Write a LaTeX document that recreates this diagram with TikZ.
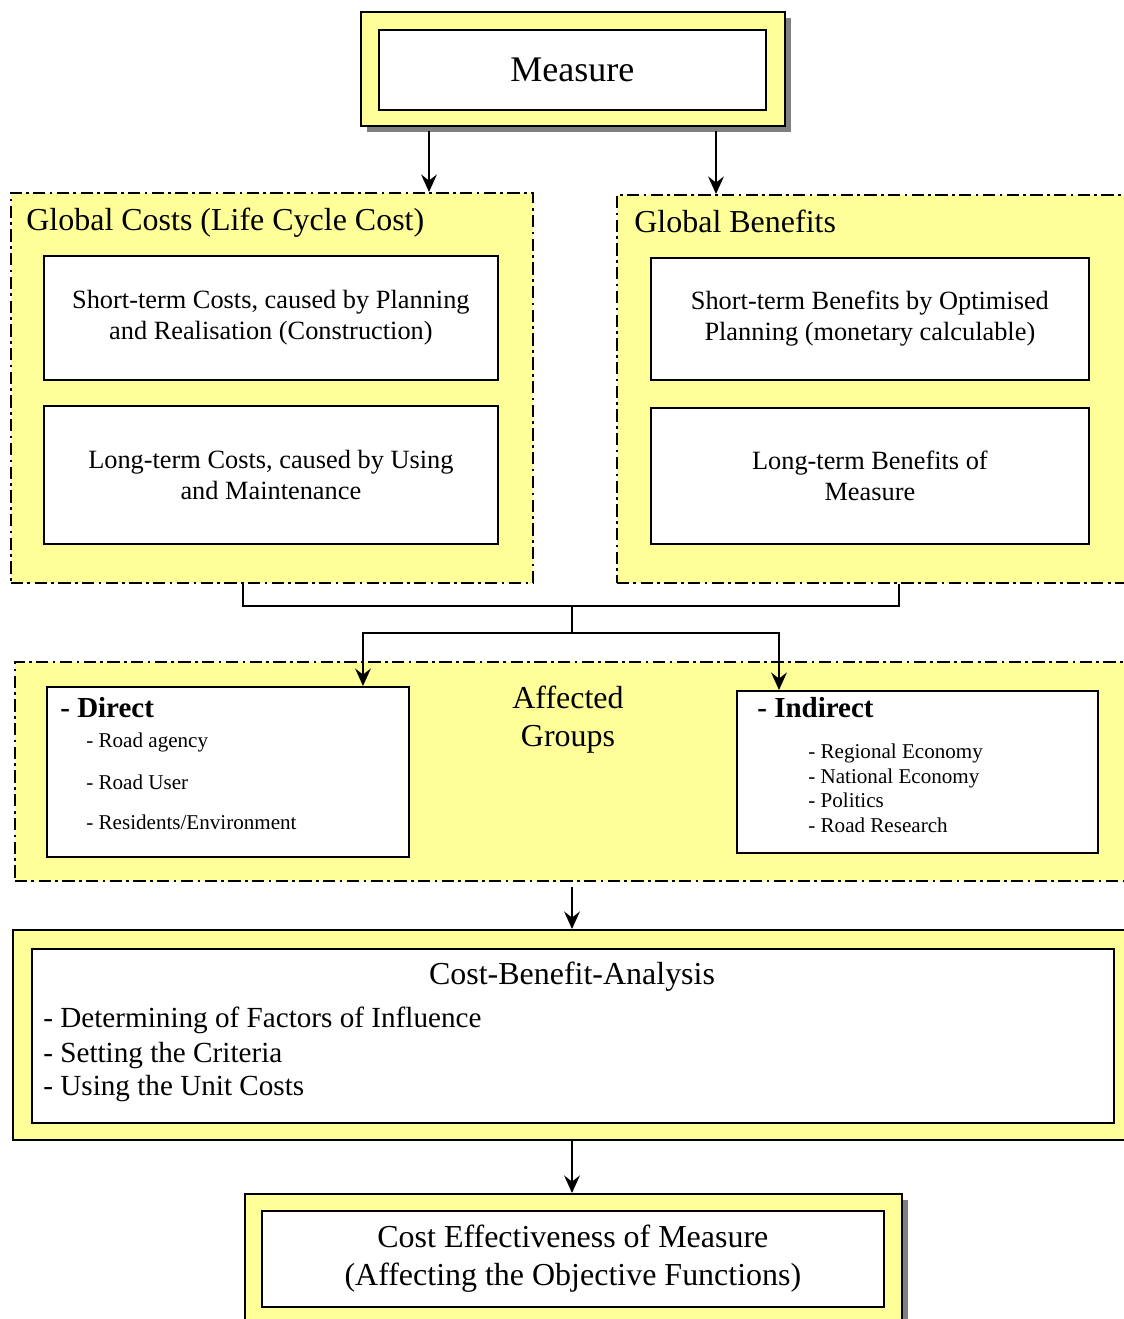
\documentclass[tikz,border=0pt]{standalone}
\usepackage{fontspec}
\setmainfont{Liberation Serif}
\usetikzlibrary{arrows.meta,shadows}

\definecolor{paleyellow}{HTML}{FFFF99}
\definecolor{shadowgray}{HTML}{808080}

\tikzset{
  boxsize/.style 2 args={minimum width=#1*0.02cm,minimum height=#2*0.02cm},
  outerbox/.style={draw,line width=1pt,fill=paleyellow,inner sep=0pt,anchor=north west},
  innerbox/.style={draw,line width=1pt,fill=white,inner sep=0pt,anchor=north west,align=center},
  groupbox/.style={draw,line width=0.9pt,fill=paleyellow,inner sep=0pt,anchor=north west,
    dash pattern=on 7pt off 2.5pt on 1.5pt off 2.5pt},
  shadowed/.style={drop shadow={shadow xshift=0.12cm,shadow yshift=-0.12cm,fill=shadowgray,opacity=1}},
  link/.style={line width=0.8pt},
  arrowlink/.style={line width=0.8pt,-{Stealth[length=10pt,width=9pt,inset=3.5pt]}},
  measurefont/.style={font=\fontsize{20.5}{24}\selectfont},
  titlefont/.style={font=\fontsize{18.2}{21.5}\selectfont},
  boxfont/.style={font=\fontsize{15}{17.6}\selectfont},
  cbatitlefont/.style={font=\fontsize{18.2}{21}\selectfont},
  cbafont/.style={font=\fontsize{16.6}{20}\selectfont},
  groupfont/.style={font=\bfseries\fontsize{16.5}{19}\selectfont},
  itemfont/.style={font=\fontsize{12}{14.2}\selectfont}
}

\begin{document}
\begin{tikzpicture}[x=0.02cm,y=-0.02cm]
  \clip (0,0) rectangle (1124,1319);

  % measure
  \node[outerbox,shadowed,boxsize={424}{114}] (measurebox) at (360,11) {};
  \node[innerbox,boxsize={387}{80},measurefont] (measure) at (378,29) {Measure};

  % global costs
  \node[groupbox,boxsize={522}{390}] (costs) at (10,192) {};
  \node[anchor=base west,inner sep=0pt,titlefont] (coststitle) at (26,230) {Global Costs (Life Cycle Cost)};
  \node[innerbox,boxsize={454}{124},boxfont] (costshort) at (43,255)
    {Short-term Costs, caused by Planning\\and Realisation (Construction)};
  \node[innerbox,boxsize={454}{138},boxfont] (costlong) at (43,405)
    {Long-term Costs, caused by Using\\and Maintenance};

  % global benefits
  \node[groupbox,boxsize={600}{388}] (benefits) at (616,194) {};
  \node[anchor=base west,inner sep=0pt,titlefont] (benefitstitle) at (634,232) {Global Benefits};
  \node[innerbox,boxsize={438}{122},boxfont] (benshort) at (650,257)
    {Short-term Benefits by Optimised\\Planning (monetary calculable)};
  \node[innerbox,boxsize={438}{136},boxfont] (benlong) at (650,407)
    {Long-term Benefits of\\Measure};

  % affected groups
  \node[groupbox,boxsize={1200}{219}] (affected) at (14,661) {};
  \node[align=center,inner sep=0pt,titlefont] (affectedtitle) at (568,720) {Affected\\Groups};
  \node[innerbox,boxsize={362}{170}] (direct) at (46,686) {};
  \node[anchor=base west,inner sep=0pt,groupfont] (directtitle) at (60,717) {- Direct};
  \node[anchor=base west,inner sep=0pt,itemfont] (agency) at (86,747) {- Road agency};
  \node[anchor=base west,inner sep=0pt,itemfont] (user) at (86,789) {- Road User};
  \node[anchor=base west,inner sep=0pt,itemfont] (residents) at (86,829) {- Residents/Environment};
  \node[innerbox,boxsize={361}{162}] (indirect) at (736,690) {};
  \node[anchor=base west,inner sep=0pt,groupfont] (indirecttitle) at (757,717) {- Indirect};
  \node[anchor=base west,inner sep=0pt,itemfont] (regional) at (808,758) {- Regional Economy};
  \node[anchor=base west,inner sep=0pt,itemfont] (national) at (808,783) {- National Economy};
  \node[anchor=base west,inner sep=0pt,itemfont] (politics) at (808,807) {- Politics};
  \node[anchor=base west,inner sep=0pt,itemfont] (research) at (808,832) {- Road Research};

  % cost-benefit-analysis
  \node[outerbox,boxsize={1200}{210}] (cbabox) at (12,929) {};
  \node[innerbox,boxsize={1082}{174}] (cba) at (31,948) {};
  \node[anchor=base,inner sep=0pt,cbatitlefont] (cbatitle) at (572,984) {Cost-Benefit-Analysis};
  \node[anchor=base west,inner sep=0pt,cbafont] (factors) at (43,1027) {- Determining of Factors of Influence};
  \node[anchor=base west,inner sep=0pt,cbafont] (criteria) at (43,1062) {- Setting the Criteria};
  \node[anchor=base west,inner sep=0pt,cbafont] (unitcosts) at (43,1095) {- Using the Unit Costs};

  % cost effectiveness
  \node[outerbox,shadowed,boxsize={657}{200}] (effectbox) at (244,1193) {};
  \node[innerbox,boxsize={622}{96},titlefont] (effect) at (261,1210)
    {Cost Effectiveness of Measure\\(Affecting the Objective Functions)};

  % connectors
  \coordinate (measureleft) at (429,131);
  \coordinate (measureright) at (716,131);
  \coordinate (joinup) at (572,606);
  \coordinate (joindown) at (572,633);
  \draw[arrowlink] (measureleft) -- (measureleft |- costs.north);
  \draw[arrowlink] (measureright) -- (measureright |- benefits.north);
  \draw[link] (costs.south -| 243,0) |- (joinup) -| (benefits.south -| 899,0);
  \draw[link] (joinup) -- (joindown);
  \draw[arrowlink] (joindown) -| (direct.north -| 363,0);
  \draw[arrowlink] (joindown) -| (indirect.north -| 779,0);
  \draw[arrowlink,shorten <=3pt] (affected.south -| 572,0) -- (cbabox.north -| 572,0);
  \draw[arrowlink] (cbabox.south -| 572,0) -- (effectbox.north -| 572,0);
\end{tikzpicture}
\end{document}
